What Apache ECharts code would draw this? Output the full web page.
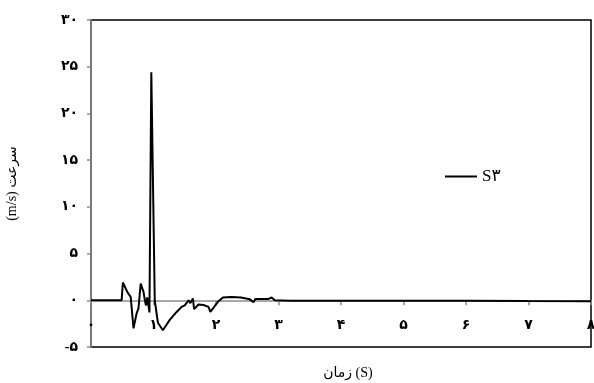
<!DOCTYPE html>
<html>
<head>
<meta charset="utf-8">
<script src="https://cdn.jsdelivr.net/npm/echarts@6/dist/echarts.min.js"></script>
<style>
  html, body { margin: 0; padding: 0; background: #fff; }
  #chart { width: 594px; height: 383px; }
</style>
</head>
<body>
<div id="chart"></div>
<script>
// Velocity record S۳: time (s) against velocity (m/s)
const timeS = [0, 0.49, 0.51, 0.58, 0.635, 0.68, 0.73, 0.76, 0.795, 0.84, 0.865, 0.88, 0.90, 0.935,
  0.965, 1.02, 1.07, 1.15, 1.26, 1.37, 1.45, 1.50, 1.53, 1.56, 1.59, 1.63, 1.65, 1.72, 1.80,
  1.88, 1.91, 1.97, 2.04, 2.11, 2.25, 2.40, 2.54, 2.60, 2.63, 2.84, 2.89, 2.94, 3.2, 4.0,
  5.0, 6.0, 7.0, 8.0];
const velocity = [0, 0, 1.9, 0.9, 0.35, -3.0, -1.4, -0.85, 1.8, 0.9, -0.1, -0.55, 0.3, -1.3,
  24.4, 0, -2.4, -3.2, -2.1, -1.25, -0.7, -0.55, -0.35, 0, -0.3, 0.2, -0.95, -0.45, -0.5,
  -0.7, -1.25, -0.7, -0.1, 0.3, 0.35, 0.3, 0.1, -0.2, 0.15, 0.15, 0.3, 0, -0.05, -0.05,
  -0.05, -0.05, -0.08, -0.1];

const seriesName = 'S۳';
const xTicks = [0, 1, 2, 3, 4, 5, 6, 7, 8];
const xTickLabels = ['۰', '۱', '۲', '۳', '۴', '۵', '۶', '۷', '۸'];
const yTicks = [-5, 0, 5, 10, 15, 20, 25, 30];
const yTickLabels = ['-۵', '۰', '۵', '۱۰', '۱۵', '۲۰', '۲۵', '۳۰'];
const xTitle = 'زمان (S)';
const yTitle = '(m/s) سرعت';

const FONT = '"Liberation Serif", "DejaVu Sans", serif';

const GRID_TOP = 20, GRID_BOTTOM = 36, CHART_H = 383;
const yMin = -5, yMax = 30;
// lift the time axis from the bottom edge of the grid up to velocity 0
const zeroLift = (CHART_H - GRID_TOP - GRID_BOTTOM) * (0 - yMin) / (yMax - yMin);

const points = timeS.map((t, i) => [t, velocity[i]]);
const labelFor = (ticks, labels) => v => {
  const i = ticks.indexOf(Math.round(v * 1000) / 1000);
  return i >= 0 ? labels[i] : '';
};

const chart = echarts.init(document.getElementById('chart'), null, { renderer: 'canvas' });
chart.setOption({
  animation: false,
  backgroundColor: '#fff',
  grid: {
    left: 91, right: 3, top: GRID_TOP, bottom: GRID_BOTTOM,
    containLabel: false, outerBoundsMode: 'none',
    show: true, borderColor: '#000', borderWidth: 1.5, backgroundColor: 'transparent'
  },
  legend: {
    left: 440, top: 163,
    itemWidth: 32, itemHeight: 12, itemGap: 7,
    textStyle: { fontFamily: FONT, fontSize: 17, color: '#000' },
    data: [{ name: seriesName, icon: 'path://M0,5 L32,5 L32,7 L0,7 Z' }]
  },
  xAxis: {
    type: 'value', min: 0, max: 8, interval: 1,
    position: 'bottom', offset: -zeroLift,
    axisLine: { onZero: false, lineStyle: { color: '#8c8c8c', width: 1.5 } },
    axisTick: { show: true, inside: false, length: 5, lineStyle: { color: '#8c8c8c', width: 1.5 } },
    axisLabel: { margin: 18, color: '#000', fontFamily: FONT, fontSize: 14, fontWeight: 'bold',
      showMinLabel: true, showMaxLabel: true, hideOverlap: false,
      formatter: labelFor(xTicks, xTickLabels) },
    splitLine: { show: false },
    name: xTitle, nameLocation: 'middle', nameGap: 66,
    nameTextStyle: { fontFamily: FONT, fontSize: 14, color: '#000', padding: [0, 0, 0, 14] }
  },
  yAxis: {
    type: 'value', min: yMin, max: yMax, interval: 5,
    axisLine: { show: true, lineStyle: { color: '#8c8c8c', width: 1.5 } },
    axisTick: { show: true, length: 4, lineStyle: { color: '#8c8c8c', width: 1.5 } },
    axisLabel: { margin: 13, color: '#000', fontFamily: FONT, fontSize: 14, fontWeight: 'bold',
      formatter: labelFor(yTicks, yTickLabels) },
    splitLine: { show: false },
    name: yTitle, nameLocation: 'middle', nameGap: 72, nameRotate: 90,
    nameTextStyle: { fontFamily: FONT, fontSize: 14, color: '#000' }
  },
  series: [{
    name: seriesName,
    type: 'line',
    data: points,
    symbol: 'none',
    lineStyle: { color: '#000', width: 2 },
    itemStyle: { color: '#000' },
    z: 3
  }]
});
</script>
</body>
</html>
